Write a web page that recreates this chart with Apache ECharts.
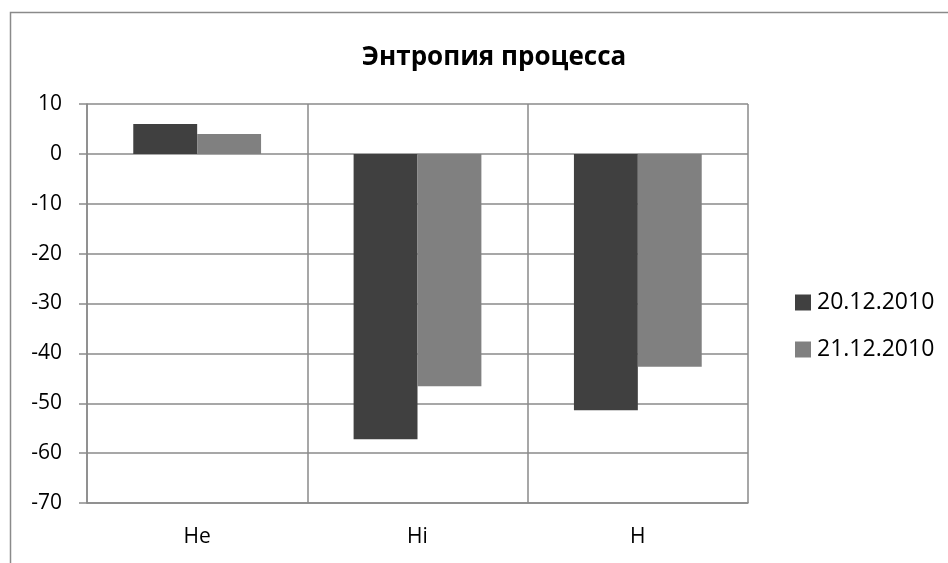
<!DOCTYPE html>
<html>
<head>
<meta charset="utf-8">
<script src="https://cdn.jsdelivr.net/npm/echarts@6/dist/echarts.min.js"></script>
<style>
  html, body { margin: 0; padding: 0; background: #fff; }
  #chart { width: 948px; height: 563px; }
</style>
</head>
<body>
<div id="chart"></div>
<script>
// Entropy components per measurement date
const categories = ['He', 'Hi', 'H'];
const seriesNames = ['20.12.2010', '21.12.2010'];
const values20 = [6, -57.2, -51.4];
const values21 = [4, -46.6, -42.7];
const yTicks = { min: -70, max: 10, interval: 10 };

const gridColor = '#8a8a8a';
const font = '"Open Sans", "Noto Sans", sans-serif';

const chart = echarts.init(document.getElementById('chart'), null, { renderer: 'canvas' });
chart.setOption({
  backgroundColor: '#fff',
  animation: false,
  graphic: [{
    type: 'rect',
    shape: { x: 10.5, y: 12.5, width: 1000, height: 1000 },
    style: { fill: 'none', stroke: gridColor, lineWidth: 1.5 },
    silent: true
  }],
  title: {
    text: 'Энтропия процесса',
    left: 489,
    textAlign: 'center',
    top: 38,
    textStyle: { fontFamily: font, fontSize: 26, fontWeight: 'bold', color: '#000', lineHeight: 30 }
  },
  legend: {
    orient: 'vertical',
    left: 790,
    top: 286,
    itemWidth: 16,
    itemHeight: 16,
    itemGap: 24,
    icon: 'rect',
    data: seriesNames,
    textStyle: { fontFamily: font, fontSize: 23, lineHeight: 23, color: '#000', padding: [0, 0, 0, 1] }
  },
  grid: { left: 87, right: 200, top: 104, bottom: 60, containLabel: false },
  xAxis: {
    type: 'category',
    data: categories,
    position: 'bottom',
    axisLine: { onZero: false, lineStyle: { color: gridColor, width: 1.5 } },
    axisTick: { show: false },
    axisLabel: { fontFamily: font, fontSize: 21, color: '#000', margin: 24 },
    splitLine: { show: true, interval: 0, lineStyle: { color: gridColor, width: 1.5 } }
  },
  yAxis: {
    type: 'value',
    min: yTicks.min,
    max: yTicks.max,
    interval: yTicks.interval,
    axisLine: { show: true, lineStyle: { color: gridColor, width: 1.5 } },
    axisTick: { show: true, length: 8, lineStyle: { color: gridColor, width: 1.5 } },
    axisLabel: { fontFamily: font, fontSize: 21, color: '#000', margin: 25 },
    splitLine: { show: true, lineStyle: { color: gridColor, width: 1.5 } }
  },
  series: [
    {
      name: seriesNames[0],
      type: 'bar',
      data: values20,
      barGap: '0%',
      barCategoryGap: '42%',
      itemStyle: { color: '#404040' }
    },
    {
      name: seriesNames[1],
      type: 'bar',
      data: values21,
      barGap: '0%',
      barCategoryGap: '42%',
      itemStyle: { color: '#808080' }
    }
  ]
});
</script>
</body>
</html>
